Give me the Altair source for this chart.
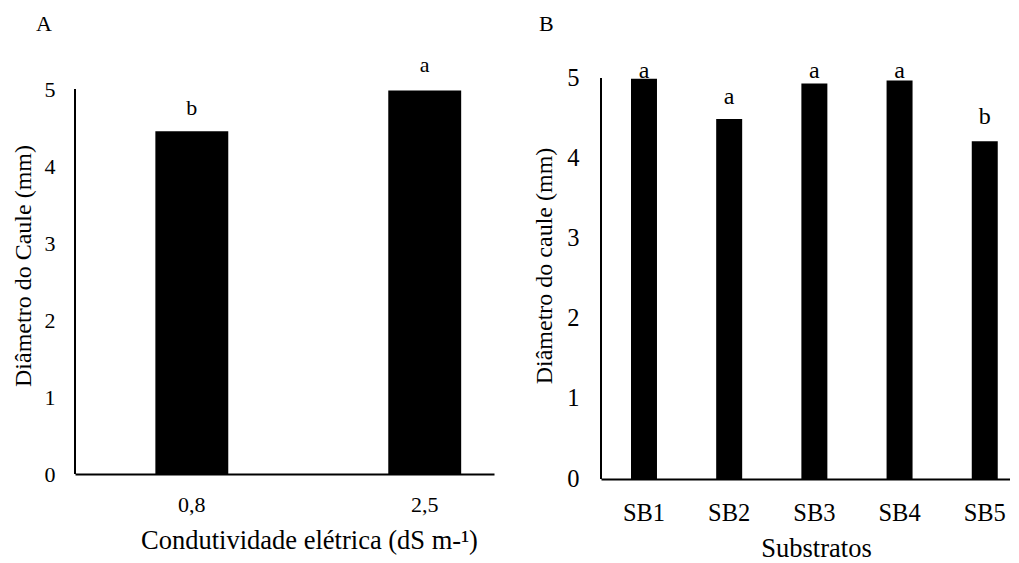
import altair as alt
import pandas as pd

FONT = "Liberation Serif"

# Panel A data
cond_labels = ["0,8", "2,5"]
cond_values = [4.45, 4.98]
cond_letters = ["b", "a"]
cond_letter_y = [4.66, 5.22]

# Panel B data
sub_labels = ["SB1", "SB2", "SB3", "SB4", "SB5"]
sub_values = [4.99, 4.49, 4.93, 4.97, 4.21]
sub_letters = ["a", "a", "a", "a", "b"]
sub_letter_y = [5.0, 4.68, 5.0, 5.0, 4.43]

y_ticks = [0, 1, 2, 3, 4, 5]

df_a = pd.DataFrame({"cat": cond_labels, "val": cond_values,
                     "letter": cond_letters, "ly": cond_letter_y})
df_b = pd.DataFrame({"cat": sub_labels, "val": sub_values,
                     "letter": sub_letters, "ly": sub_letter_y})


def panel(df, cats, xtitle, ytitle, tag, tag_x, tag_y, w, h, ymax, scale_kw,
          tick_size, letter_size, x_label_pad, x_title_x, x_title_y,
          y_label_pad, y_title_pad, y_title_y):
    x = alt.X("cat:N", sort=cats,
              scale=alt.Scale(**scale_kw),
              axis=alt.Axis(title=xtitle, labelAngle=0, ticks=False, tickSize=0,
                            domainColor="black", domainWidth=2,
                            labelFont=FONT, titleFont=FONT,
                            labelFontSize=tick_size, labelColor="black",
                            labelBaseline="alphabetic", labelPadding=x_label_pad,
                            titleFontSize=26.5, titleFontWeight="normal",
                            titleColor="black", titleBaseline="alphabetic",
                            titleAlign="center", titleX=x_title_x, titleY=x_title_y))
    y = alt.Y("val:Q",
              scale=alt.Scale(domain=[0, ymax], nice=False),
              axis=alt.Axis(title=ytitle, values=y_ticks, format="d",
                            grid=False, ticks=False, tickSize=0, domain=False,
                            labelFont=FONT, titleFont=FONT,
                            labelFontSize=tick_size, labelColor="black",
                            labelPadding=y_label_pad,
                            titleFontSize=24, titleFontWeight="normal",
                            titleColor="black", titlePadding=y_title_pad,
                            titleY=y_title_y))
    base = alt.Chart(df)
    bars = base.mark_bar(color="black").encode(x=x, y=y)
    yline = alt.Chart(pd.DataFrame({"a": [0]})).mark_rule(
        color="black", strokeWidth=2).encode(
        x=alt.value(0), y=alt.datum(min(y_ticks)), y2=alt.datum(max(y_ticks)))
    letters = base.mark_text(fontSize=letter_size, baseline="alphabetic",
                             color="black", font=FONT).encode(
        x=alt.X("cat:N", sort=cats), y=alt.Y("ly:Q"), text="letter:N")
    tag_mark = alt.Chart(pd.DataFrame({"t": [tag]})).mark_text(
        fontSize=22, align="left", baseline="alphabetic", color="black",
        font=FONT).encode(x=alt.value(tag_x), y=alt.value(tag_y), text="t:N")
    return alt.layer(bars, yline, letters, tag_mark).properties(width=w, height=h)


pa = panel(df_a, cond_labels, "Condutividade elétrica (dS m-¹)",
           "Diâmetro do Caule (mm)", "A", -39, -47, 419, 396, 396 / 77,
           dict(paddingInner=0.687, paddingOuter=0.243, align=0.71),
           22, 22, 37, 234, 74, 20, 9, 187.5)
pb = panel(df_b, sub_labels, "Substratos",
           "Diâmetro do caule (mm)", "B", -62, -47, 409, 401, 5,
           dict(paddingInner=0.695, paddingOuter=0.248, align=0.71),
           24.5, 24, 41, 215, 77, 22, 10, 187.5)

chart = alt.hconcat(pa, pb, spacing=38).properties(
    padding={"left": 3, "top": 5, "right": 0, "bottom": 0}
).configure(font=FONT).configure_view(stroke=None).configure_axis(
    labelFont=FONT, titleFont=FONT)

chart.save("out.html", embed_options={"renderer": "svg", "actions": False})
